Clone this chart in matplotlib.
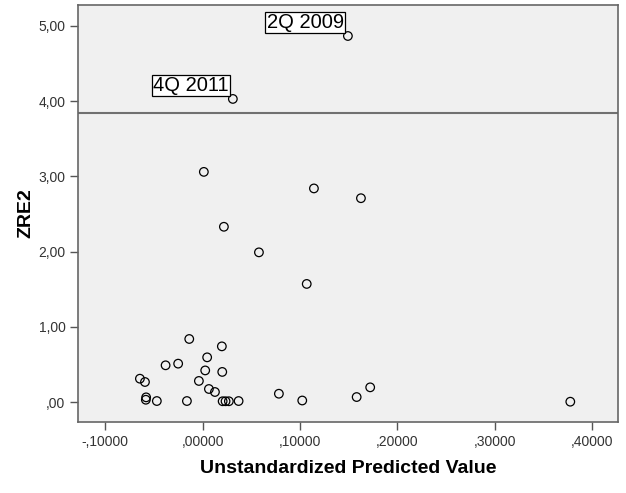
import matplotlib.pyplot as plt

plt.rcParams["font.family"] = ["Liberation Sans", "DejaVu Sans"]

# unstandardized predicted value vs squared standardized residual (ZRE2)
pred = [0.1493, 0.0311, 0.0013, 0.1144, 0.1627, 0.0219, 0.0579, 0.1070,
        -0.0137, 0.0198, 0.0047, -0.0380, -0.0251, 0.0027, 0.0202,
        -0.0644, -0.0592, -0.0038, 0.0065, 0.0127, -0.0580, -0.0583,
        -0.0470, -0.0161, 0.0206, 0.0236, 0.0270, 0.0370, 0.0784,
        0.1024, 0.1583, 0.1722, 0.3778]
zre2 = [4.867, 4.03, 3.06, 2.84, 2.71, 2.33, 1.99, 1.57,
        0.838, 0.74, 0.594, 0.488, 0.51, 0.42, 0.40,
        0.31, 0.266, 0.28, 0.173, 0.133, 0.062, 0.03,
        0.013, 0.013, 0.01, 0.01, 0.01, 0.013, 0.11,
        0.02, 0.066, 0.195, 0.004]

labels = {0: "2Q 2009", 1: "4Q 2011"}
cutoff = 3.84

xticks = [-0.1, 0.0, 0.1, 0.2, 0.3, 0.4]
xticklabels = ["-,10000", ",00000", ",10000", ",20000", ",30000", ",40000"]
yticks = [0, 1, 2, 3, 4, 5]
yticklabels = [",00", "1,00", "2,00", "3,00", "4,00", "5,00"]

fig = plt.figure(figsize=(6.26, 4.93), dpi=100)
ax = fig.add_axes([0.1246, 0.144, 0.8626, 0.846])
ax.set_facecolor("#f0f0f0")

ax.axhline(cutoff, color="#707070", lw=1.5, zorder=1)
ax.scatter(pred, zre2, s=38, facecolors="none", edgecolors="black",
           linewidths=0.9, zorder=3)

for i, txt in labels.items():
    ax.annotate(txt, (pred[i], zre2[i]), xytext=(-3, 3), textcoords="offset points",
                ha="right", va="bottom", fontsize=14.5,
                bbox=dict(boxstyle="square,pad=0.06", fc="white", ec="black", lw=0.9))

ax.set_xlim(-0.128, 0.4268)
ax.set_ylim(-0.266, 5.28)
ax.set_xticks(xticks)
ax.set_xticklabels(xticklabels)
ax.set_yticks(yticks)
ax.set_yticklabels(yticklabels)
ax.tick_params(labelsize=10, length=5.5, width=1, color="#555555",
               labelcolor="#333333")

for s in ax.spines.values():
    s.set_color("#666666")
    s.set_linewidth(1.2)

ax.set_xlabel("Unstandardized Predicted Value", fontsize=14, fontweight="bold",
              labelpad=8)
ax.set_ylabel("ZRE2", fontsize=14, fontweight="bold", labelpad=3)

fig.savefig("out.png", dpi=100)
